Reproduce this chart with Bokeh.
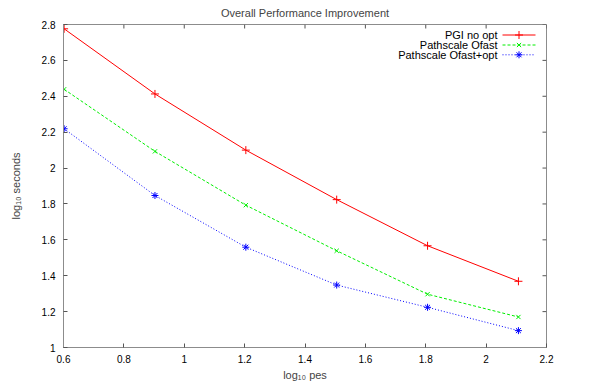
import math
from bokeh.plotting import figure
from bokeh.models import ColumnDataSource, FixedTicker, Label, Range1d
from bokeh.embed import file_html
from bokeh.resources import INLINE

# ---- data ----
log_pes = [0.602, 0.903, 1.204, 1.505, 1.806, 2.107]
pgi_no_opt = [2.776, 2.413, 2.100, 1.824, 1.567, 1.369]
pathscale_ofast = [2.439, 2.093, 1.793, 1.539, 1.297, 1.170]
pathscale_ofast_opt = [2.219, 1.847, 1.559, 1.348, 1.224, 1.094]

series_names = ["PGI no opt", "Pathscale Ofast", "Pathscale Ofast+opt"]

x_ticks = [0.6, 0.8, 1.0, 1.2, 1.4, 1.6, 1.8, 2.0, 2.2]
x_tick_labels = ["0.6", "0.8", "1", "1.2", "1.4", "1.6", "1.8", "2", "2.2"]
y_ticks = [1.0, 1.2, 1.4, 1.6, 1.8, 2.0, 2.2, 2.4, 2.6, 2.8]
y_tick_labels = ["1", "1.2", "1.4", "1.6", "1.8", "2", "2.2", "2.4", "2.6", "2.8"]

# ---- layout / style ----
FONT = "Liberation Sans"
AXIS_COLOR = "#8c8c8c"
TICK_COLOR = "#555555"
X_MIN, X_MAX = 0.6, 2.2
Y_MIN, Y_MAX = 1.0, 2.8
BORDER_L, BORDER_R, BORDER_T, BORDER_B = 63, 54, 24, 42
W, H = 600, 389
FRAME_W = W - BORDER_L - BORDER_R
FRAME_H = H - BORDER_T - BORDER_B

p = figure(width=W, height=H, output_backend="svg", toolbar_location=None,
           x_range=Range1d(X_MIN, X_MAX), y_range=Range1d(Y_MIN, Y_MAX),
           min_border_left=BORDER_L, min_border_right=BORDER_R,
           min_border_top=BORDER_T, min_border_bottom=BORDER_B,
           title="Overall Performance Improvement")
p.title.align = "center"
p.title.text_font = FONT
p.title.text_font_size = "11px"
p.title.text_font_style = "normal"
p.title.standoff = 7
p.title.offset = 0
p.title.vertical_align = "top"

p.xgrid.visible = False
p.ygrid.visible = False
p.outline_line_color = AXIS_COLOR
p.outline_line_width = 1
p.background_fill_color = "white"
p.border_fill_color = "white"

# pixel-unit ranges for the legend samples
p.extra_x_ranges = {"px": Range1d(0, FRAME_W)}
p.extra_y_ranges = {"px": Range1d(0, FRAME_H)}


def style_axis(ax, ticks, labels):
    ax.ticker = FixedTicker(ticks=ticks)
    ax.major_label_overrides = {t: l for t, l in zip(ticks, labels)}
    ax.major_tick_in = 4
    ax.major_tick_out = 0
    ax.minor_tick_in = 0
    ax.minor_tick_out = 0
    ax.axis_line_color = AXIS_COLOR
    ax.major_tick_line_color = TICK_COLOR
    ax.major_label_text_font = FONT
    ax.major_label_text_color = "black"
    ax.major_label_text_font_size = "10px"
    ax.axis_label_text_font = FONT
    ax.axis_label_text_font_style = "normal"
    ax.axis_label_text_font_size = "11px"


style_axis(p.xaxis[0], x_ticks, x_tick_labels)
p.xaxis[0].axis_label = "log\u2081\u2080 pes"
p.xaxis[0].major_label_standoff = 7
p.xaxis[0].axis_label_standoff = 3

style_axis(p.yaxis[0], y_ticks, y_tick_labels)
p.yaxis[0].axis_label = "log\u2081\u2080 seconds"
p.yaxis[0].major_label_standoff = 8
p.yaxis[0].axis_label_standoff = 17

# mirrored ticks on the top and right border (gnuplot style)
p.ray(x=x_ticks, y=[Y_MAX] * len(x_ticks), angle=-math.pi / 2, length=4,
      length_units="screen", line_color=TICK_COLOR, line_width=1)
p.ray(x=[X_MAX] * len(y_ticks), y=y_ticks, angle=math.pi, length=4,
      length_units="screen", line_color=TICK_COLOR, line_width=1)

src = ColumnDataSource(dict(x=log_pes, a=pgi_no_opt, b=pathscale_ofast,
                            c=pathscale_ofast_opt))

styles = [
    ("a", "#ff0000", "solid", "cross", 8),
    ("b", "#00ee00", "3 2", "x", 6),
    ("c", "#0000ff", "1 2", "asterisk", 7),
]

# legend geometry (pixels inside the frame, measured from bottom-left)
LEG_X0, LEG_X1 = 439, 472
LEG_TEXT_X = 434
LEG_ROWS_Y = [FRAME_H - 10.5, FRAME_H - 20.5, FRAME_H - 30.3]

for (col, color, dash, marker, size), name, ly in zip(styles, series_names,
                                                      LEG_ROWS_Y):
    p.line("x", col, source=src, line_color=color, line_width=1,
           line_dash=dash)
    p.scatter("x", col, source=src, marker=marker, size=size,
              line_color=color, line_width=1)
    # legend sample
    p.line(x=[LEG_X0, LEG_X1], y=[ly, ly], x_range_name="px",
           y_range_name="px", line_color=color, line_width=1, line_dash=dash)
    p.scatter(x=[(LEG_X0 + LEG_X1) / 2], y=[ly], x_range_name="px",
              y_range_name="px", marker=marker, size=size, line_color=color,
              line_width=1)
    p.add_layout(Label(x=LEG_TEXT_X, y=ly, x_units="screen", y_units="screen",
                       text=name, text_align="right", text_baseline="middle",
                       text_font=FONT, text_font_size="11px",
                       text_color="black"))

open("out.html", "w").write(file_html(p, INLINE))
